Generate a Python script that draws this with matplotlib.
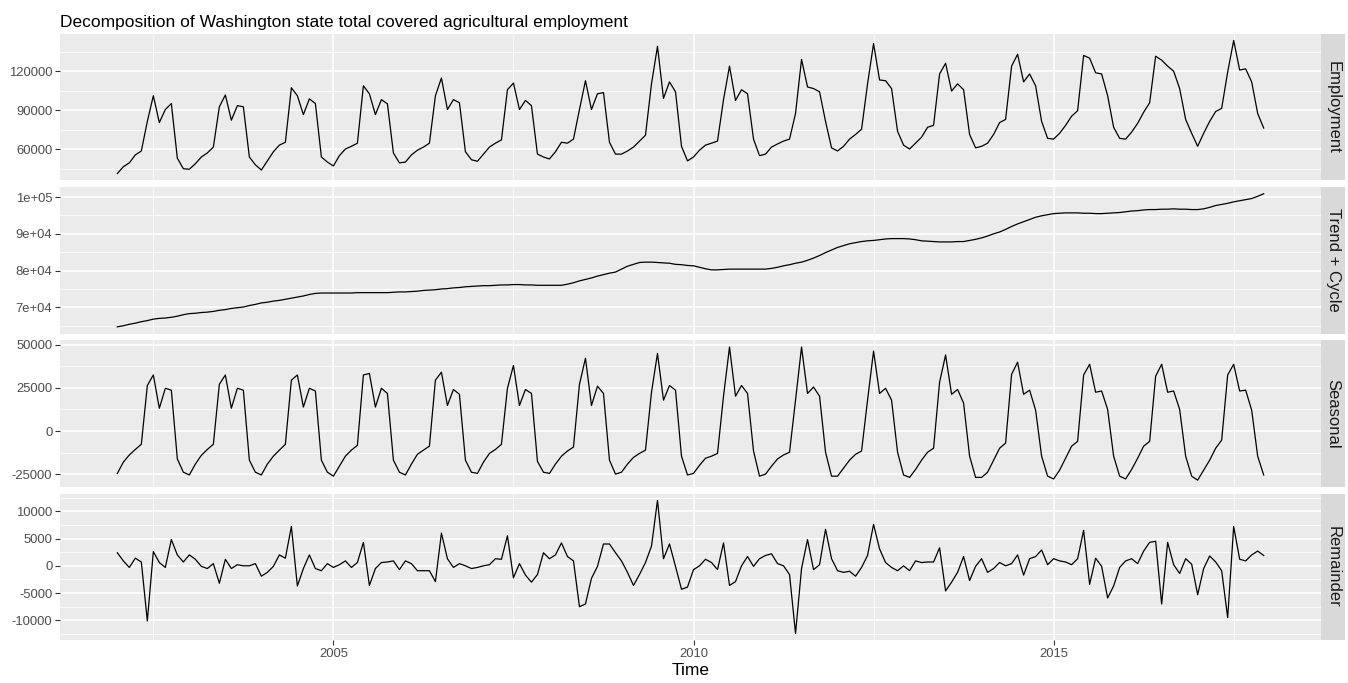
import numpy as np
import matplotlib
matplotlib.use("Agg")
import matplotlib.pyplot as plt
from matplotlib.ticker import FixedLocator, FixedFormatter

plt.rcParams["font.family"] = ["Liberation Sans", "DejaVu Sans"]

title = "Decomposition of Washington state total covered agricultural employment"
start_year = 2002
panel_names = ["Employment", "Trend + Cycle", "Seasonal", "Remainder"]

# monthly values, Jan 2002 .. Dec 2017, in thousands
employment_k = [
    41.5, 46.7, 49.7, 55.8, 58.8, 81.5, 101.2, 80.6, 90.6, 95.2, 53.3, 45.2,
    44.8, 49.0, 54.2, 57.3, 61.8, 92.7, 101.8, 82.4, 93.6, 92.7, 54.2, 48.2,
    44.2, 51.2, 58.2, 63.3, 65.5, 107.3, 101.2, 86.7, 98.8, 95.2, 54.2, 50.3,
    47.3, 55.2, 60.3, 62.4, 64.8, 108.8, 102.7, 86.7, 98.2, 95.0, 57.3, 49.7,
    50.3, 55.8, 59.4, 61.8, 64.8, 101.2, 114.8, 90.6, 98.2, 95.8, 58.2, 52.1,
    50.9, 56.4, 61.8, 64.8, 67.3, 105.8, 110.9, 90.6, 97.6, 93.6, 56.4, 54.2,
    52.7, 58.2, 65.5, 64.8, 67.9, 90.6, 112.7, 90.6, 102.7, 103.6, 65.5, 56.4,
    56.4, 58.8, 61.8, 66.4, 70.9, 110.3, 139.1, 99.2, 111.8, 104.2, 62.4, 51.2,
    54.2, 59.4, 63.3, 64.8, 66.4, 98.2, 123.9, 97.6, 105.8, 102.7, 67.9, 55.2,
    56.4, 61.8, 64.2, 66.4, 67.9, 87.6, 129.1, 107.9, 106.7, 104.2, 81.5, 61.2,
    58.8, 62.4, 67.9, 71.5, 75.5, 110.3, 141.2, 113.3, 112.7, 106.7, 73.9, 63.3,
    60.3, 64.8, 69.4, 77.0, 78.5, 117.9, 126.1, 104.8, 110.3, 105.8, 71.5, 61.2,
    62.4, 64.8, 71.5, 80.6, 83.0, 123.9, 133.0, 111.8, 117.9, 108.8, 81.5, 68.5,
    67.9, 72.4, 78.5, 85.5, 89.7, 132.1, 130.0, 118.8, 117.9, 101.2, 77.0, 68.5,
    67.9, 73.3, 80.0, 88.5, 95.8, 131.5, 128.5, 123.9, 120.0, 106.7, 83.0, 72.4,
    62.4, 72.4, 81.5, 89.1, 91.5, 119.4, 143.6, 120.9, 121.8, 111.8, 87.6, 76.4,
]

trend_k = [
    64.7, 65.0, 65.4, 65.7, 66.1, 66.4, 66.8, 67.0, 67.1, 67.3, 67.6, 68.0,
    68.3, 68.4, 68.6, 68.7, 68.9, 69.2, 69.4, 69.7, 69.9, 70.1, 70.5, 70.8,
    71.2, 71.4, 71.7, 71.9, 72.2, 72.5, 72.8, 73.1, 73.5, 73.8, 73.9, 73.9,
    73.9, 73.9, 73.9, 73.9, 74.0, 74.0, 74.0, 74.0, 74.0, 74.0, 74.1, 74.2,
    74.2, 74.3, 74.4, 74.6, 74.7, 74.8, 75.0, 75.1, 75.3, 75.4, 75.6, 75.7,
    75.8, 75.9, 75.9, 76.0, 76.1, 76.1, 76.2, 76.2, 76.1, 76.1, 76.0, 76.0,
    76.0, 76.0, 76.0, 76.3, 76.7, 77.2, 77.6, 78.0, 78.5, 78.9, 79.3, 79.6,
    80.4, 81.2, 81.7, 82.2, 82.3, 82.3, 82.2, 82.1, 82.0, 81.7, 81.6, 81.4,
    81.3, 80.9, 80.5, 80.2, 80.2, 80.3, 80.4, 80.4, 80.4, 80.4, 80.4, 80.4,
    80.4, 80.6, 80.9, 81.3, 81.6, 82.0, 82.3, 82.8, 83.4, 84.1, 84.9, 85.6,
    86.3, 86.8, 87.3, 87.6, 87.9, 88.1, 88.2, 88.4, 88.6, 88.7, 88.7, 88.7,
    88.6, 88.4, 88.1, 88.0, 87.9, 87.8, 87.8, 87.8, 87.9, 87.9, 88.2, 88.5,
    88.9, 89.4, 90.0, 90.5, 91.2, 92.0, 92.7, 93.3, 93.9, 94.5, 94.9, 95.2,
    95.5, 95.6, 95.7, 95.7, 95.7, 95.6, 95.6, 95.5, 95.5, 95.6, 95.7, 95.8,
    96.0, 96.2, 96.3, 96.5, 96.6, 96.6, 96.7, 96.7, 96.8, 96.7, 96.7, 96.6,
    96.6, 96.8, 97.2, 97.7, 98.0, 98.3, 98.7, 99.0, 99.3, 99.6, 100.2, 100.9,
]

seasonal_k = [
    -24.6, -18.1, -13.9, -10.7, -7.7, 26.4, 32.5, 13.2, 24.8, 23.7, -16.2, -23.9,
    -25.5, -19.2, -14.1, -10.7, -7.7, 27.1, 32.5, 13.2, 24.8, 23.7, -16.9, -23.9,
    -25.5, -19.2, -14.6, -11.1, -7.7, 29.5, 32.5, 13.9, 24.8, 23.2, -16.9, -23.9,
    -26.2, -20.4, -14.6, -11.1, -8.3, 32.5, 33.4, 13.9, 24.8, 21.8, -16.9, -23.9,
    -25.5, -19.2, -13.5, -11.1, -8.8, 29.5, 34.1, 14.8, 24.1, 21.3, -16.9, -23.9,
    -24.6, -18.1, -13.0, -10.7, -7.7, 24.8, 38.0, 14.8, 24.1, 21.8, -17.6, -23.9,
    -24.6, -19.2, -14.6, -11.6, -9.3, 27.1, 42.2, 14.8, 26.0, 21.8, -16.9, -25.0,
    -23.9, -19.2, -15.3, -13.0, -11.1, 22.5, 45.0, 17.9, 26.4, 23.7, -14.6, -25.5,
    -24.6, -19.9, -15.8, -14.6, -13.0, 20.2, 48.7, 20.2, 26.4, 21.8, -11.6, -26.2,
    -25.0, -20.4, -16.2, -13.9, -12.3, 17.9, 48.7, 21.8, 25.5, 20.2, -12.3, -26.2,
    -26.2, -21.6, -16.9, -13.5, -11.6, 17.9, 46.4, 21.8, 24.8, 17.9, -12.3, -25.5,
    -26.9, -22.3, -16.9, -12.3, -10.0, 28.3, 44.1, 21.3, 24.1, 16.2, -14.6, -26.9,
    -26.9, -23.9, -16.9, -10.0, -7.0, 32.9, 39.9, 21.3, 23.7, 12.1, -14.6, -26.2,
    -27.8, -22.7, -15.8, -8.8, -6.0, 32.5, 38.7, 22.5, 23.2, 12.5, -14.6, -26.2,
    -27.8, -22.3, -15.8, -8.8, -6.0, 31.8, 38.7, 22.5, 23.2, 12.5, -14.6, -26.2,
    -28.5, -22.7, -16.9, -10.0, -5.3, 32.5, 38.7, 23.2, 23.7, 12.1, -14.6, -25.5,
]

remainder_k = [
    2.4, 0.9, -0.3, 1.4, 0.7, -10.1, 2.6, 0.6, -0.3, 4.8, 2.0, 0.7,
    2.0, 1.2, -0.1, -0.5, 0.4, -3.2, 1.2, -0.5, 0.2, 0.0, 0.0, 0.4,
    -1.9, -1.2, -0.1, 2.0, 1.4, 7.2, -3.7, -0.5, 2.0, -0.5, -0.9, 0.4,
    -0.3, 0.2, 0.9, -0.3, 0.6, 4.3, -3.6, -0.5, 0.6, 0.7, 0.9, -0.7,
    0.9, 0.4, -0.9, -0.9, -0.9, -2.9, 6.0, 1.3, -0.3, 0.4, 0.0, -0.5,
    -0.3, 0.0, 0.2, 1.3, 1.2, 5.5, -2.2, 0.4, -1.7, -3.0, -1.6, 2.4,
    1.3, 2.0, 4.2, 1.7, 0.9, -7.5, -7.0, -2.3, -0.1, 4.0, 4.0, 2.4,
    0.9, -1.2, -3.6, -1.6, 0.6, 3.6, 12.0, 1.3, 4.0, -0.1, -4.3, -3.9,
    -0.7, 0.0, 1.2, 0.6, -0.7, 4.2, -3.6, -2.9, 0.0, 1.7, -0.1, 1.3,
    1.9, 2.2, 0.4, 0.0, -1.6, -12.4, -0.5, 4.8, -0.7, 0.2, 6.7, 1.3,
    -0.9, -1.2, -1.0, -1.9, -0.3, 1.9, 7.6, 3.1, 0.6, -0.3, -0.9, 0.0,
    -0.9, 0.9, 0.6, 0.7, 0.7, 3.3, -4.6, -3.0, -1.2, 1.7, -2.7, -0.1,
    1.3, -1.2, -0.5, 0.6, 0.0, 0.4, 2.0, -1.7, 1.3, 1.7, 2.9, 0.2,
    1.3, 0.9, 0.7, 0.2, 1.3, 6.5, -3.4, 1.4, -0.1, -5.9, -3.7, -0.3,
    0.9, 1.3, 0.4, 2.7, 4.3, 4.5, -7.0, 4.3, 0.2, -1.4, 1.3, 0.3,
    -5.3, -0.5, 1.8, 0.7, -0.9, -9.5, 7.2, 1.2, 0.9, 2.0, 2.7, 1.9,
]

# axis ticks per panel
x_major = [2005, 2010, 2015]
x_minor = [2002.5, 2007.5, 2012.5, 2017.5]
y_major = [
    [60000, 90000, 120000],
    [70000, 80000, 90000, 100000],
    [-25000, 0, 25000, 50000],
    [-10000, -5000, 0, 5000, 10000],
]
y_labels = [
    ["60000", "90000", "120000"],
    ["7e+04", "8e+04", "9e+04", "1e+05"],
    ["-25000", "0", "25000", "50000"],
    ["-10000", "-5000", "0", "5000", "10000"],
]
y_minor = [
    [45000, 75000, 105000, 135000],
    [65000, 75000, 85000, 95000],
    [-12500, 12500, 37500],
    [-12500, -7500, -2500, 2500, 7500, 12500],
]


def main():
    series = [np.array(s) * 1000 for s in (employment_k, trend_k, seasonal_k, remainder_k)]
    t = start_year + np.arange(len(employment_k)) / 12.0

    W, H = 1348, 683
    fig = plt.figure(figsize=(W / 100, H / 100), dpi=100)

    left, right = 60, 1321
    strip_w = 24
    top0, ph, gap = 33.8, 146.4, 6.9

    for k, (name, y) in enumerate(zip(panel_names, series)):
        top = top0 + k * (ph + gap)
        ax = fig.add_axes([left / W, 1 - (top + ph) / H, (right - left) / W, ph / H])
        ax.set_facecolor("#EBEBEB")
        for sp in ax.spines.values():
            sp.set_visible(False)

        ax.plot(t, y, color="black", lw=0.9)
        ax.margins(x=0.05, y=0.05)

        ax.xaxis.set_major_locator(FixedLocator(x_major))
        ax.xaxis.set_minor_locator(FixedLocator(x_minor))
        ax.yaxis.set_major_locator(FixedLocator(y_major[k]))
        ax.yaxis.set_major_formatter(FixedFormatter(y_labels[k]))
        ax.yaxis.set_minor_locator(FixedLocator(y_minor[k]))

        ax.grid(which="major", color="white", lw=1.1)
        ax.grid(which="minor", color="white", lw=0.55)
        ax.set_axisbelow(True)

        ax.tick_params(which="major", length=3.5, width=0.8, color="#333333",
                       labelsize=9.4, labelcolor="#4D4D4D", pad=2)
        ax.tick_params(which="minor", length=0)
        if k < 3:
            ax.tick_params(axis="x", which="both", length=0, labelbottom=False)
        else:
            ax.set_xlabel("Time", fontsize=12.5, color="black", labelpad=2)

        # facet strip on the right
        sax = fig.add_axes([right / W, 1 - (top + ph) / H, strip_w / W, ph / H])
        sax.set_facecolor("#D9D9D9")
        sax.set_xticks([])
        sax.set_yticks([])
        for sp in sax.spines.values():
            sp.set_visible(False)
        sax.text(0.5, 0.5, name, rotation=-90, ha="center", va="center",
                 fontsize=12, color="#1A1A1A", transform=sax.transAxes)

    fig.text(left / W, 1 - 27.3 / H, title, fontsize=12.5, color="black",
             ha="left", va="baseline")

    fig.savefig("out.png", dpi=100)


if __name__ == "__main__":
    main()
